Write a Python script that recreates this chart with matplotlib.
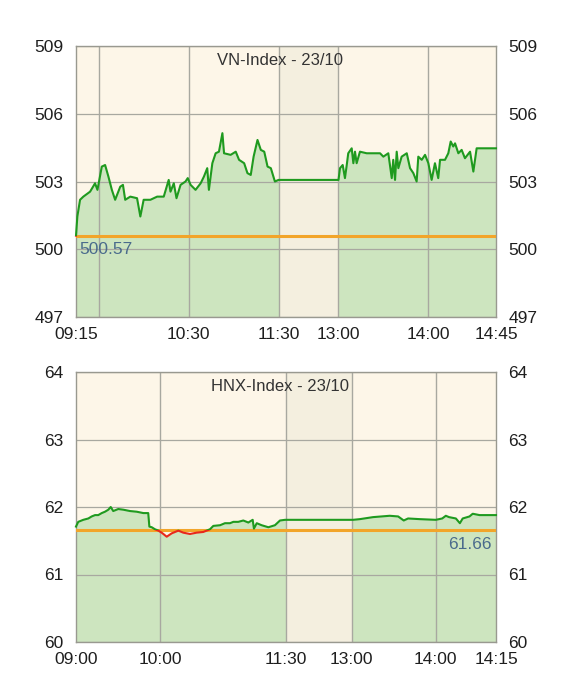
import matplotlib
matplotlib.use("Agg")
import matplotlib.pyplot as plt
import numpy as np
from matplotlib.patches import Rectangle

plt.rcParams['font.family'] = ['Liberation Sans', 'DejaVu Sans']

# VN-Index 23/10 -- minutes after 09:15 (morning) and after 13:00 (afternoon)
vn_am_t = [0, 0.9, 2.7, 4.9, 9.4, 12.7, 14.3, 17.2, 19.4, 21.6, 23.9, 26.1, 29.5, 31.3, 32.8,
           36.2, 40.7, 42.9, 45.1, 49.6, 54.1, 58.5, 61.8, 63, 65.2, 67, 69.7, 73, 74.5, 76.4,
           79.7, 83.1, 85.3, 87.5, 88.6, 90.9, 93.1, 95.3, 97.6, 98.7, 103.1, 106.5, 108.7,
           112.1, 114.3, 116.5, 118.4, 121, 123.2, 125.5, 127.7, 129.9, 132.6, 135]
vn_am_v = [500.6, 501.45, 502.19, 502.33, 502.55, 502.92, 502.63, 503.66, 503.73, 503.22, 502.63,
           502.19, 502.77, 502.85, 502.19, 502.33, 502.26, 501.45, 502.19, 502.19, 502.33, 502.33,
           503.07, 502.55, 502.92, 502.26, 502.85, 503.0, 503.15, 502.85, 502.63, 502.92, 503.22,
           503.59, 502.63, 503.81, 504.25, 504.32, 505.14, 504.25, 504.18, 504.32, 503.96, 503.81,
           503.37, 503.29, 504.1, 504.84, 504.4, 504.32, 503.66, 503.59, 503.0, 503.07]
vn_pm_t = [0, 1, 2.8, 4.3, 5.5, 6.5, 8.8, 9.9, 11, 12.1, 14.3, 18.8, 23.2, 27.7, 29.9, 33.2, 35.5,
           36.5, 37.7, 38.8, 39.9, 42.1, 45.5, 47.7, 49.9, 52.1, 53.2, 55.5, 57.7, 59.9, 62.1, 64.3,
           66.5, 67.7, 71, 73.2, 74.8, 76.5, 77.7, 79.9, 82.1, 84.3, 87.7, 89.9, 92.1, 105]
vn_pm_v = [503.07, 503.59, 503.73, 503.15, 503.73, 504.25, 504.47, 503.81, 504.32, 503.81, 504.32,
           504.25, 504.25, 504.25, 504.1, 504.25, 503.15, 503.96, 503.07, 504.32, 503.59, 504.1,
           504.25, 503.59, 503.37, 503.0, 504.1, 503.96, 504.18, 503.81, 503.07, 503.81, 503.15,
           503.96, 503.96, 504.25, 504.77, 504.55, 504.69, 504.25, 504.4, 504.03, 504.32, 503.44,
           504.47, 504.47]
vn_ref = 500.57
vn_yticks = [497, 500, 503, 506, 509]
vn_xticks = ["09:15", "10:30", "11:30", "13:00", "14:00", "14:45"]
vn_xgrid = ["09:30", "10:30", "11:30", "13:00", "14:00"]
vn_breaks = ["09:15", "11:30", "13:00", "14:45"]
vn_pos = [0, 135, 175, 280]

# HNX-Index 23/10 -- minutes after 09:00 (morning) and after 13:00 (afternoon)
hnx_am_t = [0, 1.6, 5.2, 8.8, 11.2, 13.6, 15.9, 18.4, 20.7, 23.1, 24.8, 26.6, 30.2, 33.8, 38.6,
            43.4, 48.1, 51.6, 52.4, 54.1, 56.4, 58.8, 61.2, 64.8, 68.4, 73.1, 76.6, 81.4, 86.2,
            90.9, 95.7, 98.1, 102.9, 106.4, 110, 112.4, 115.9, 119.5, 123.1, 126.2, 127.1, 129.1,
            132.6, 137.4, 142.1, 145.7, 149.3, 150]
hnx_am_v = [61.71, 61.78, 61.81, 61.83, 61.86, 61.88, 61.88, 61.91, 61.93, 61.96, 62.0, 61.94,
            61.97, 61.96, 61.94, 61.93, 61.91, 61.91, 61.71, 61.70, 61.67, 61.65, 61.62, 61.56,
            61.61, 61.65, 61.62, 61.60, 61.62, 61.63, 61.67, 61.72, 61.73, 61.76, 61.76, 61.78,
            61.78, 61.80, 61.77, 61.81, 61.68, 61.76, 61.73, 61.70, 61.73, 61.80, 61.81, 61.81]
hnx_pm_t = [0, 0.9, 5.7, 15.2, 27.1, 33.1, 37.1, 40.2, 48.6, 60, 61.6, 62.5, 63.3, 65.0, 66.0,
            66.7, 68.4, 69.2, 70.9, 75]
hnx_pm_v = [61.81, 61.81, 61.82, 61.85, 61.87, 61.86, 61.80, 61.83, 61.82, 61.81, 61.83, 61.87,
            61.85, 61.83, 61.76, 61.83, 61.86, 61.90, 61.88, 61.88]
hnx_ref = 61.66
hnx_yticks = [60, 61, 62, 63, 64]
hnx_xticks = ["09:00", "10:00", "11:30", "13:00", "14:00", "14:15"]
hnx_xgrid = ["10:00", "11:30", "13:00", "14:00"]
hnx_breaks = ["09:00", "11:30", "13:00", "14:00", "14:15"]
hnx_pos = [0, 150, 197, 257, 300]

BG = '#fdf6e8'
LUNCH = '#f4efdf'
FILL = '#cde5bf'
GREEN = '#1f9a1f'
RED = '#e8281c'
ORANGE = '#f2a52a'
GRID = '#a8a8a0'
LABEL = '#4a6b8c'


def hm(s):
    h, m = s.split(':')
    return int(h) * 60 + int(m)


def draw(ax, title, am_start, am_t, am_v, pm_t, pm_v, ref, yticks, xticks, xgrid,
         breaks, pos, ref_label_pos):
    brk = [hm(b) for b in breaks]
    to_x = lambda clock: np.interp(clock, brk, pos)
    xa = to_x(hm(am_start) + np.array(am_t))
    xp = to_x(hm("13:00") + np.array(pm_t))
    ya, yp = np.array(am_v), np.array(pm_v)
    y0, y1 = yticks[0], yticks[-1]

    ax.set_facecolor(BG)
    ax.axvspan(to_x(hm("11:30")), to_x(hm("13:00")), color=LUNCH, zorder=0, lw=0)
    ax.fill_between(xa, ya, y0, color=FILL, lw=0, zorder=1)
    ax.fill_between(xp, yp, y0, color=FILL, lw=0, zorder=1)

    for g in xgrid:
        ax.axvline(to_x(hm(g)), color=GRID, lw=1, zorder=2)
    for t in yticks:
        ax.axhline(t, color=GRID, lw=0.9, zorder=2)

    ax.axhline(ref, color=ORANGE, lw=2.2, zorder=3)

    xs = np.concatenate([xa, xp])
    ys = np.concatenate([ya, yp])
    up, = ax.plot(xs, ys, color=GREEN, lw=1.5, zorder=4)
    dn, = ax.plot(xs, ys, color=RED, lw=1.5, zorder=4)
    up.set_clip_path(Rectangle((-10, ref), 400, 100, transform=ax.transData))
    dn.set_clip_path(Rectangle((-10, ref - 100), 400, 100, transform=ax.transData))

    ax.set_xlim(pos[0], pos[-1])
    ax.set_ylim(y0, y1)
    ax.set_yticks(yticks)
    ax.set_xticks([to_x(hm(t)) for t in xticks])
    ax.set_xticklabels(xticks)
    ax.tick_params(length=0, labelsize=12.5, labelcolor='#1e1e1e', labelright=True)
    ax.tick_params(axis='y', pad=9)
    ax.tick_params(axis='x', pad=7)
    for s in ax.spines.values():
        s.set_color('#999990')
        s.set_linewidth(1)

    ax.text(0.485, 0.948, title, transform=ax.transAxes, ha='center', va='center',
            fontsize=12, color='#333333', zorder=5)
    lx, ly, ha = ref_label_pos
    ax.text(lx, ly, '%.2f' % ref, ha=ha, va='center', fontsize=12.5, color=LABEL, zorder=5)


fig = plt.figure(figsize=(5.64, 6.92), dpi=100)
ax1 = fig.add_axes([76 / 564, 375 / 692, 420 / 564, 271 / 692])
ax2 = fig.add_axes([76 / 564, 50 / 692, 420 / 564, 270 / 692])

draw(ax1, "VN-Index - 23/10", "09:15", vn_am_t, vn_am_v, vn_pm_t, vn_pm_v, vn_ref,
     vn_yticks, vn_xticks, vn_xgrid, vn_breaks, vn_pos, (2.5, 500.0, 'left'))
draw(ax2, "HNX-Index - 23/10", "09:00", hnx_am_t, hnx_am_v, hnx_pm_t, hnx_pm_v, hnx_ref,
     hnx_yticks, hnx_xticks, hnx_xgrid, hnx_breaks, hnx_pos, (297, 61.44, 'right'))

fig.savefig("out.png", dpi=100, facecolor='white')
